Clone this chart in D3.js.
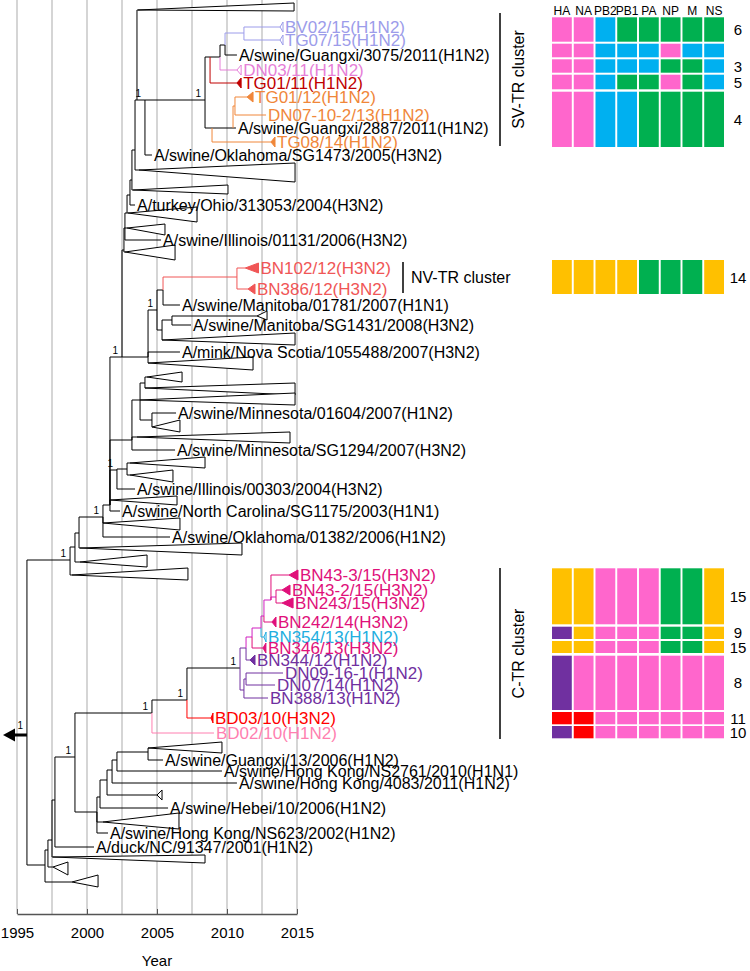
<!DOCTYPE html>
<html><head><meta charset="utf-8">
<script src="https://cdn.jsdelivr.net/npm/d3@7"></script>
<style>body{margin:0;background:#fff}text{font-family:"Liberation Sans",Arial,sans-serif}</style>
</head><body>
<svg id="chart" width="750" height="971"></svg>
<script>
// ---------------- DATA ----------------
const yearTicks = [1995, 2000, 2005, 2010, 2015];
const gridYears = [1995, 1997.5, 2000, 2002.5, 2005, 2007.5, 2010, 2012.5, 2015];

const COL = {k:"#000000", lav:"#9C9CEA", orc:"#E67FD8", dred:"#C00000", org:"#F0873A",
  sal:"#F05656", mag:"#E0107A", magB:"#D020C0", cyan:"#22AEE0", pur:"#7030A0", red:"#FF0000", pink:"#FF7FB0"};

// internal nodes: [id, parent, year, y(row position), branch colour key]
const nodes = [
  ["R",null,1995.71,735,"k"],
  ["N1","R",1998.79,560,"k"],["N2","N1",1999.14,547,"k"],["N3","N2",1999.43,533,"k"],
  ["N4","N3",2001.14,517,"k"],["N5","N4",2001.64,505,"k"],
  ["K1","N5",2002.5,357,"k"],
  ["U1","K1",2002.64,250,"k"],["U2","U1",2002.71,228,"k"],["U3","U2",2002.86,213,"k"],
  ["U4","U3",2003.07,195,"k"],["U5","U4",2003.21,180,"k"],["U6","U5",2003.43,150,"k"],
  ["P0","U6",2003.57,100,"k"],["P1","P0",2004.14,100,"k"],
  ["S0","P1",2008.43,100,"k"],["S1","S0",2008.79,57,"k"],["S2","S1",2009.5,57,"k"],
  ["S3","S2",2009.86,45,"k"],["S4","S3",2011.21,33,"lav"],
  ["O1","S0",2008.93,128,"k"],["O2","O1",2010.43,128,"k"],["O3","O2",2010.57,106,"org"],
  ["M1","K1",2004.36,357,"k"],["NVp","M1",2005.0,310,"k"],["NV","NVp",2005.43,290,"k"],
  ["BN","NV",2010.71,277,"sal"],["MM","NVp",2005.36,330,"k"],["MM2","MM",2006.07,320,"k"],
  ["V1","N5",2003.21,440,"k"],["V2","V1",2003.79,400,"k"],["V3","V2",2004.14,383,"k"],
  ["N11","V2",2004.64,420,"k"],["N6","N5",2002.14,470,"k"],["N7","N6",2002.86,469,"k"],
  ["L","R",1997.0,865,"k"],["Lb","L",1997.21,850,"k"],["Lc","Lb",1997.5,840,"k"],
  ["Ld","Lc",1997.71,800,"k"],["L1","Ld",1999.14,757,"k"],
  ["CT0","L1",2004.64,713,"k"],["CT1","CT0",2007.14,700,"k"],["CT2","CT1",2010.93,668,"k"],
  ["CT5","CT2",2011.21,690,"pur"],["CT6","CT5",2011.36,679,"pur"],
  ["CT3","CT2",2011.36,648,"pur"],["CT7","CT3",2011.79,637,"magB"],["CT8","CT7",2012.43,628,"magB"],
  ["CT9","CT8",2012.64,616,"magB"],["CT10","CT9",2013.14,600,"magB"],["CT12","CT10",2013.5,597,"magB"],
  ["L2","L1",2000.71,812,"k"],["L3","L2",2000.93,797,"k"],["L4","L3",2001.43,780,"k"],
  ["L5","L4",2001.79,770,"k"],["L6","L5",2002.14,760,"k"],["L7","L6",2004.36,752,"k"]
];

// labelled tips: [parent, year, y, label, colour key, collapsed-marker length (years), marker fill]
const tips = [
  ["S4",2013.79,27,"BV02/15(H1N2)","lav",0.21,false],
  ["S4",2013.79,40,"TG07/15(H1N2)","lav",0.21,false],
  ["S3",2010.71,55,"A/swine/Guangxi/3075/2011(H1N2)","k",0,false],
  ["S2",2010.71,70,"DN03/11(H1N2)","orc",0.3,false],
  ["S1",2010.71,83,"TG01/11(H1N2)","dred",0.3,true],
  ["O3",2011.43,97,"TG01/12(H1N2)","org",0.43,true],
  ["O3",2012.79,115,"DN07-10-2/13(H1N2)","org",0,false],
  ["O2",2010.64,128,"A/swine/Guangxi/2887/2011(H1N2)","k",0,false],
  ["O1",2013.14,142,"TG08/14(H1N2)","org",0.29,true],
  ["P1",2004.64,155,"A/swine/Oklahoma/SG1473/2005(H3N2)","k",0,false],
  ["U4",2003.43,205,"A/turkey/Ohio/313053/2004(H3N2)","k",0,false],
  ["U2",2005.29,240,"A/swine/Illinois/01131/2006(H3N2)","k",0,false],
  ["BN",2011.3,268,"BN102/12(H3N2)","sal",0.95,true],
  ["BN",2011.5,289,"BN386/12(H3N2)","sal",0.5,true],
  ["NV",2006.64,305,"A/swine/Manitoba/01781/2007(H1N1)","k",0,false],
  ["MM2",2007.43,325,"A/swine/Manitoba/SG1431/2008(H3N2)","k",0,false],
  ["M1",2006.64,352,"A/mink/Nova Scotia/1055488/2007(H3N2)","k",0,false],
  ["N11",2006.36,413,"A/swine/Minnesota/01604/2007(H1N2)","k",0,false],
  ["V1",2006.29,450,"A/swine/Minnesota/SG1294/2007(H3N2)","k",0,false],
  ["N6",2003.43,489,"A/swine/Illinois/00303/2004(H3N2)","k",0,false],
  ["N5",2002.36,511,"A/swine/North Carolina/SG1175/2003(H1N1)","k",0,false],
  ["N4",2005.93,537,"A/swine/Oklahoma/01382/2006(H1N2)","k",0,false],
  ["CT10",2014.43,575,"BN43-3/15(H3N2)","mag",0.64,true],
  ["CT12",2013.93,590,"BN43-2/15(H3N2)","mag",0.57,true],
  ["CT12",2013.93,603,"BN243/15(H3N2)","mag",0.79,true],
  ["CT9",2013.21,622,"BN242/14(H3N2)","mag",0.29,true],
  ["CT8",2012.64,637,"BN354/13(H1N2)","cyan",0.15,false],
  ["CT7",2012.57,648,"BN346/13(H3N2)","mag",0.21,true],
  ["CT3",2011.64,660,"BN344/12(H1N2)","pur",0.36,true],
  ["CT6",2014.0,673,"DN09-16-1(H1N2)","pur",0,false],
  ["CT6",2013.43,685,"DN07/14(H1N2)","pur",0,false],
  ["CT5",2012.93,698,"BN388/13(H1N2)","pur",0,false],
  ["CT1",2008.86,718,"BD03/10(H3N2)","red",0.14,true],
  ["CT0",2009.07,733,"BD02/10(H1N2)","pink",0,false],
  ["L7",2005.43,760,"A/swine/Guangxi/13/2006(H1N2)","k",0,false],
  ["L6",2009.64,771,"A/swine/Hong Kong/NS2761/2010(H1N1)","k",0,false],
  ["L5",2010.71,783,"A/swine/Hong Kong/4083/2011(H1N2)","k",0,false],
  ["L3",2005.79,808,"A/swine/Hebei/10/2006(H1N2)","k",0,false],
  ["L2",2001.5,833,"A/swine/Hong Kong/NS623/2002(H1N2)","k",0,false],
  ["Ld",2000.5,847,"A/duck/NC/91347/2001(H1N2)","k",0,false]
];

// collapsed clades: [parent, apex year, apex y, end year, top y, bottom y]
const clades = [
  ["P0",2003.64,10,2014.79,3,11],
  ["U6",2003.71,170,2014.86,163,182],
  ["U5",2003.29,190,2010.07,185,194],
  ["U3",2002.93,213,2007.86,207,222],
  ["U2",2002.86,228,2005.57,224,235],
  ["U1",2002.71,252,2006.29,245,260],
  ["MM",2005.36,340,2014.86,333,345],
  ["MM2",2012.14,316,2012.86,311,320],
  ["M1",2004.36,363,2011.86,357,370],
  ["V3",2004.29,377,2006.79,372,382],
  ["V3",2004.14,388,2014.86,383,395],
  ["V2",2003.79,400,2014.86,393,405],
  ["N11",2004.64,427,2006.64,420,432],
  ["V1",2003.57,437,2014.5,432,443],
  ["N7",2003.07,463,2008.43,457,468],
  ["N7",2003.07,475,2006.14,470,482],
  ["N5",2001.64,500,2006.43,496,505],
  ["N4",2001.14,523,2006.64,518,530],
  ["N3",1999.5,548,2011.07,543,555],
  ["N2",1999.5,562,2004.29,555,567],
  ["N1",1998.93,575,2007.21,568,580],
  ["L7",2004.36,748,2009.64,742,753],
  ["L4",2005.0,795,2005.36,790,800],
  ["L2",2001.14,822,2006.57,813,829],
  ["Lc",1997.57,857,2008.43,855,863],
  ["Lb",1997.57,867,1998.64,862,875],
  ["L",1998.93,882,2000.79,875,887]
];

// nodes with posterior probability 1
const support = ["R","N1","N4","N6","K1","NVp","P1","S0","CT0","CT1","CT2","L1"];

// gene segment constellations (row extent in tree rows, count label, lineage per gene)
const genes = ["HA","NA","PB2","PB1","PA","NP","M","NS"];
const lineageColor = {p:"#FF66CC", b:"#00B0F0", g:"#00B050", o:"#FFC000", v:"#7030A0", r:"#FF0000"};
const genoRows = [
  [17.3,41.7,"6","ppbggggg"],
  [43.7,57.3,"","ppbbbpbb"],
  [59.3,72.7,"3","ppbbbggb"],
  [74.7,89.3,"5","ppbggpgb"],
  [91.7,147,"4","ppbbgggg"],
  [260,294,"14","oooogggo"],
  [568.3,624.3,"15","oopppggo"],
  [626.7,639,"9","vopppggo"],
  [641,653,"15","oopppggo"],
  [655.7,710,"8","vppppppp"],
  [712,724.3,"11","rrpppppp"],
  [726,738.3,"10","vrpppppp"]
];
const clusters = [
  {name:"SV-TR cluster", y0:13, y1:146, pos:"v"},
  {name:"NV-TR cluster", y0:262, y1:293, pos:"h"},
  {name:"C-TR cluster", y0:568, y1:739, pos:"v"}
];

// ---------------- DRAW ----------------
const svg = d3.select("#chart");
const x = d3.scaleLinear().domain([1995, 2015]).range([17, 297]);
const y = d3.scaleLinear().domain([0, 971]).range([0, 971]);
const axisY = 914;
const FS_K = 16, FS_C = 17;

svg.append("g").selectAll("line").data(gridYears).join("line")
  .attr("x1", d => x(d)).attr("x2", d => x(d)).attr("y1", 0).attr("y2", axisY)
  .attr("stroke", "#ababab").attr("stroke-width", 1);

const axisG = svg.append("g").attr("transform", `translate(0,${axisY})`)
  .call(d3.axisBottom(x).tickValues(yearTicks).tickFormat(d3.format("d"))
    .tickSizeInner(-5).tickSizeOuter(0).tickPadding(13));
axisG.select(".domain").attr("stroke", "#555").attr("stroke-width", 1.3);
axisG.selectAll(".tick line").attr("stroke", "#555");
axisG.selectAll("text").attr("font-size", 15).attr("fill", "#000")
  .attr("font-family", '"Liberation Sans",Arial,sans-serif');
svg.append("text").attr("x", x(2005)).attr("y", 966).attr("text-anchor", "middle")
  .attr("font-size", 15).text("Year");

const nodeMap = new Map(nodes.map(n => [n[0], {id:n[0], parent:n[1], year:n[2], y:n[3], col:COL[n[4]]}]));
const tree = svg.append("g").attr("fill", "none").attr("stroke-width", 1);

function branch(parentId, year, yy, col) {
  const p = nodeMap.get(parentId);
  return {d:`M${x(p.year)},${y(p.y)}V${y(yy)}H${x(year)}`, col};
}
const segs = [];
nodes.forEach(n => { if (n[1]) segs.push(branch(n[1], n[2], n[3], COL[n[4]])); });
tips.forEach(t => segs.push(branch(t[0], t[1], t[2], COL[t[4]])));
clades.forEach(c => segs.push(branch(c[0], c[1], c[2], COL.k)));
segs.sort((a, b) => (a.col === COL.k ? 0 : 1) - (b.col === COL.k ? 0 : 1));
tree.selectAll("path.br").data(segs).join("path").attr("class", "br")
  .attr("d", d => d.d).attr("stroke", d => d.col);

// collapsed clade triangles
tree.selectAll("path.tri").data(clades).join("path").attr("class", "tri")
  .attr("d", c => `M${x(c[1])},${y(c[2])}L${x(c[3])},${y(c[4])}L${x(c[3])},${y(c[5])}Z`)
  .attr("stroke", "#000").attr("fill", "#fff");

// tip markers (small collapsed clades)
const mk = tips.filter(t => t[5] > 0);
svg.append("g").selectAll("path").data(mk).join("path")
  .attr("d", t => `M${x(t[1])},${y(t[2])}L${x(t[1] + t[5])},${y(t[2]) - 5}L${x(t[1] + t[5])},${y(t[2]) + 5}Z`)
  .attr("stroke", t => COL[t[4]]).attr("fill", t => t[6] ? COL[t[4]] : "#fff");

// tip labels
svg.append("g").selectAll("text").data(tips).join("text")
  .attr("x", t => x(t[1] + t[5]) + 2)
  .attr("y", t => y(t[2]) + (t[4] === "k" ? FS_K : FS_C) * 0.36)
  .attr("font-size", t => t[4] === "k" ? FS_K : FS_C)
  .attr("fill", t => COL[t[4]]).text(t => t[3]);

// root arrow
const root = nodeMap.get("R");
svg.append("path").attr("d", `M${x(root.year)},${y(root.y)}H${x(1995) - 2}`)
  .attr("stroke", "#000").attr("stroke-width", 3);
svg.append("path").attr("d", `M3,${y(root.y)}L${x(1995) - 2},${y(root.y) - 6.5}L${x(1995) - 2},${y(root.y) + 6.5}Z`)
  .attr("fill", "#000");

// support values
svg.append("g").selectAll("text").data(support).join("text")
  .attr("x", id => x(nodeMap.get(id).year) - 4)
  .attr("y", id => y(nodeMap.get(id).y) - (id === "R" ? 6 : 3))
  .attr("text-anchor", "end").attr("font-size", 10).text("1");

// genotype heatmap
const gx = d3.scaleBand().domain(genes).range([552, 724]).paddingInner(0.09);
svg.append("g").selectAll("text").data(genes).join("text")
  .attr("x", g => gx(g) + gx.bandwidth() / 2).attr("y", 15).attr("text-anchor", "middle")
  .attr("font-size", 12).text(g => g);
const rowG = svg.append("g").selectAll("g").data(genoRows).join("g");
rowG.selectAll("rect").data(r => genes.map((g, i) => ({g, r, c: r[3][i]}))).join("rect")
  .attr("x", d => gx(d.g)).attr("width", gx.bandwidth())
  .attr("y", d => y(d.r[0])).attr("height", d => y(d.r[1]) - y(d.r[0]))
  .attr("fill", d => lineageColor[d.c]);
rowG.append("text").attr("x", 738).attr("y", r => y((r[0] + r[1]) / 2) + 5.5)
  .attr("text-anchor", "middle").attr("font-size", 15).text(r => r[2]);

// cluster annotations
clusters.forEach(c => {
  const lx = c.pos === "v" ? 500 : 403;
  svg.append("line").attr("x1", lx).attr("x2", lx).attr("y1", y(c.y0)).attr("y2", y(c.y1))
    .attr("stroke", "#000").attr("stroke-width", 1.5);
  if (c.pos === "v") {
    const cy = y((c.y0 + c.y1) / 2);
    svg.append("text").attr("transform", `translate(524,${cy}) rotate(-90)`)
      .attr("text-anchor", "middle").attr("font-size", 16).text(c.name);
  } else {
    svg.append("text").attr("x", 411).attr("y", y((c.y0 + c.y1) / 2) + 5.5)
      .attr("font-size", 16).text(c.name);
  }
});
</script>
</body></html>
